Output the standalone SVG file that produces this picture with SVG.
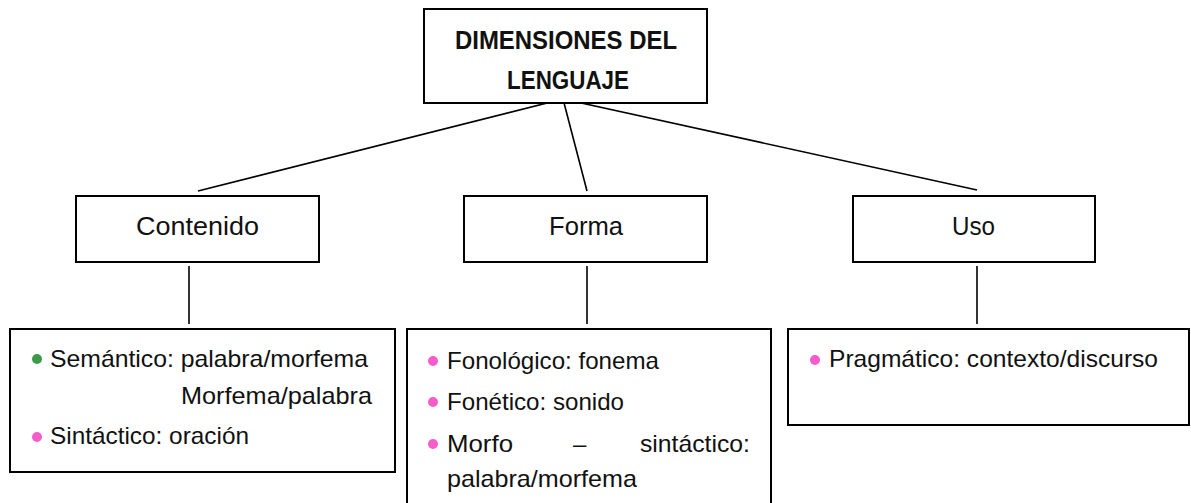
<svg xmlns="http://www.w3.org/2000/svg" width="1191" height="503" viewBox="0 0 1191 503">
<style>
.box{fill:#fff;stroke:#000;stroke-width:2}
.ln{stroke:#000;stroke-width:1.6;fill:none}
.t{font-family:"Liberation Sans",Arial,sans-serif;fill:#111}
.title{font-size:26px;font-weight:bold;text-anchor:middle}
.lab{font-size:26px;text-anchor:middle}
.b{font-size:24px}
.pk{fill:#f75ccb}
.gr{fill:#3c9a48}
</style>
<rect width="1191" height="503" fill="#fff"/>
<g id="connectors">
<line class="ln" x1="563" y1="99" x2="198" y2="191"/>
<line class="ln" x1="563" y1="99" x2="587" y2="191"/>
<line class="ln" x1="563" y1="99" x2="977" y2="190"/>
<line class="ln" x1="189" y1="266" x2="189" y2="324"/>
<line class="ln" x1="587" y1="266" x2="587" y2="324"/>
<line class="ln" x1="977" y1="266" x2="977" y2="324"/>
</g>
<g id="root">
<rect class="box" x="424" y="9" width="283" height="94"/>
<text class="t title" x="566" y="49" textLength="222" lengthAdjust="spacingAndGlyphs">DIMENSIONES DEL</text>
<text class="t title" x="568" y="89" textLength="122" lengthAdjust="spacingAndGlyphs">LENGUAJE</text>
</g>
<g id="contenido">
<rect class="box" x="76" y="196" width="243" height="66"/>
<text class="t lab" x="197.5" y="235" textLength="123" lengthAdjust="spacingAndGlyphs">Contenido</text>
</g>
<g id="forma">
<rect class="box" x="464" y="196" width="243" height="66"/>
<text class="t lab" x="586" y="235" textLength="74" lengthAdjust="spacingAndGlyphs">Forma</text>
</g>
<g id="uso">
<rect class="box" x="853" y="196" width="242" height="66"/>
<text class="t lab" x="973.5" y="235" textLength="43" lengthAdjust="spacingAndGlyphs">Uso</text>
</g>
<g id="contenido-detalle">
<rect class="box" x="10" y="329" width="385" height="143"/>
<circle class="gr" cx="37" cy="359" r="5"/>
<text class="t b" x="50" y="367" textLength="318" lengthAdjust="spacingAndGlyphs">Semántico: palabra/morfema</text>
<text class="t b" x="181" y="404" textLength="191" lengthAdjust="spacingAndGlyphs">Morfema/palabra</text>
<circle class="pk" cx="37" cy="437" r="5"/>
<text class="t b" x="50" y="444" textLength="199" lengthAdjust="spacingAndGlyphs">Sintáctico: oración</text>
</g>
<g id="forma-detalle">
<rect class="box" x="407" y="329" width="364" height="190"/>
<circle class="pk" cx="433" cy="361" r="5"/>
<text class="t b" x="447" y="369" textLength="212" lengthAdjust="spacingAndGlyphs">Fonológico: fonema</text>
<circle class="pk" cx="433" cy="402" r="5"/>
<text class="t b" x="447" y="410" textLength="177" lengthAdjust="spacingAndGlyphs">Fonético: sonido</text>
<circle class="pk" cx="433" cy="444" r="5"/>
<text class="t b" x="447" y="452" textLength="66" lengthAdjust="spacingAndGlyphs">Morfo</text>
<text class="t b" x="573" y="452">–</text>
<text class="t b" x="640" y="452" textLength="110" lengthAdjust="spacingAndGlyphs">sintáctico:</text>
<text class="t b" x="447" y="487" textLength="190" lengthAdjust="spacingAndGlyphs">palabra/morfema</text>
</g>
<g id="uso-detalle">
<rect class="box" x="788" y="329" width="401" height="96"/>
<circle class="pk" cx="815" cy="360" r="5"/>
<text class="t b" x="829" y="367" textLength="329" lengthAdjust="spacingAndGlyphs">Pragmático: contexto/discurso</text>
</g>
</svg>
